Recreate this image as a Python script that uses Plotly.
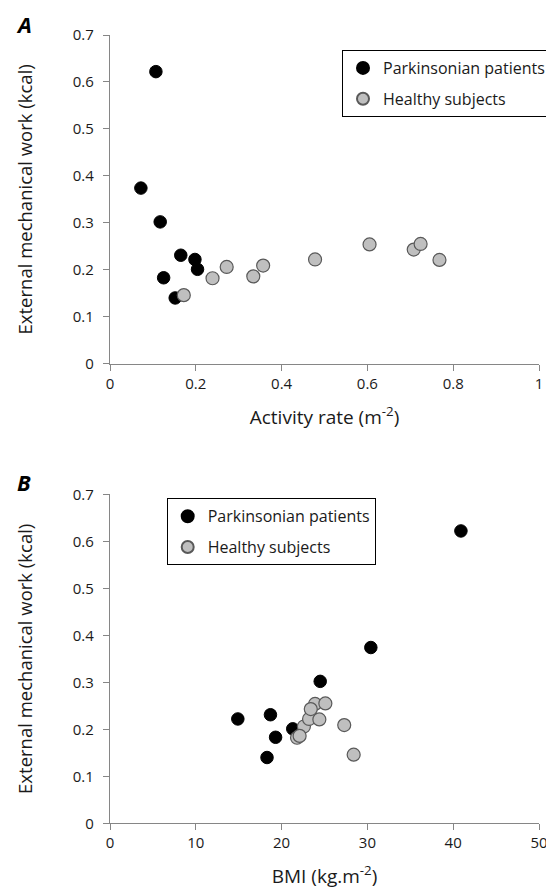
import plotly.graph_objects as go

# Parkinsonian patients
pd_activity = [0.107, 0.072, 0.117, 0.165, 0.198, 0.204, 0.125, 0.152]
pd_work = [0.622, 0.374, 0.302, 0.231, 0.222, 0.201, 0.183, 0.140]
pd_bmi = [40.9, 30.4, 24.5, 18.7, 14.9, 21.3, 19.3, 18.3]

# Healthy subjects
hs_activity = [0.172, 0.239, 0.272, 0.334, 0.357, 0.478, 0.605, 0.708, 0.724, 0.768]
hs_work = [0.146, 0.182, 0.206, 0.186, 0.209, 0.222, 0.254, 0.243, 0.255, 0.221]
hs_bmi = [28.4, 21.8, 22.6, 22.1, 27.3, 23.2, 23.9, 23.4, 25.1, 24.4]

series_names = ["Parkinsonian patients", "Healthy subjects"]
y_ticks = [0, 0.1, 0.2, 0.3, 0.4, 0.5, 0.6, 0.7]
x_ticks_a = [0, 0.2, 0.4, 0.6, 0.8, 1]
x_ticks_b = [0, 10, 20, 30, 40, 50]

FONT = "'Open Sans', Lato, sans-serif"
PAGE_W, PAGE_H = 554, 892
OFF = 8  # default body margin of the page
W, H = PAGE_W - OFF, PAGE_H - OFF
AX = "#868686"
TXT = "#1a1a1a"


def px(x):
    return (x - OFF) / W


def py(y):
    return 1 - (y - OFF) / H


pd_marker = dict(color="black", size=12.5, line=dict(color="black", width=1))
hs_marker = dict(color="#BFBFBF", size=13, line=dict(color="#595959", width=1.2))

fig = go.Figure()
fig.add_trace(go.Scatter(x=pd_activity, y=pd_work, mode="markers", name=series_names[0],
                         marker=pd_marker, xaxis="x", yaxis="y", legend="legend",
                         legendgroup="a1"))
fig.add_trace(go.Scatter(x=hs_activity, y=hs_work, mode="markers", name=series_names[1],
                         marker=hs_marker, xaxis="x", yaxis="y", legend="legend",
                         legendgroup="a2"))
fig.add_trace(go.Scatter(x=pd_bmi, y=pd_work, mode="markers", name=series_names[0],
                         marker=pd_marker, xaxis="x2", yaxis="y2", legend="legend2",
                         legendgroup="b1"))
fig.add_trace(go.Scatter(x=hs_bmi, y=hs_work, mode="markers", name=series_names[1],
                         marker=hs_marker, xaxis="x2", yaxis="y2", legend="legend2",
                         legendgroup="b2"))

xdom = [px(110), px(539)]
ya_dom = [py(363.7), py(35)]
yb_dom = [py(823.3), py(494.3)]

axis_common = dict(showline=True, linecolor=AX, linewidth=1.3, ticks="outside",
                   tickcolor=AX, ticklen=6, tickwidth=1.3, showgrid=False, zeroline=False,
                   automargin=False,
                   tickfont=dict(family=FONT, size=15, color=TXT))

xtitle_font = dict(family=FONT, size=19, color=TXT)
ytitle_font = dict(family=FONT, size=18.5, color=TXT)

legend_common = dict(xanchor="left", yanchor="top",
                     bordercolor="black", borderwidth=1, bgcolor="white",
                     font=dict(family=FONT, size=16, color=TXT),
                     tracegroupgap=7, itemsizing="constant")

fig.update_layout(
    width=W, height=H,
    margin=dict(l=0, r=0, t=0, b=0, autoexpand=False),
    paper_bgcolor="white", plot_bgcolor="white",
    font=dict(family=FONT, color=TXT),
    xaxis=dict(domain=xdom, range=[0, 1], tickvals=x_ticks_a, anchor="y",
               title=dict(text="Activity rate (m<sup>-2</sup>)", standoff=18, font=xtitle_font),
               **axis_common),
    yaxis=dict(domain=ya_dom, range=[0, 0.7], tickvals=y_ticks, anchor="x",
               ticklabelstandoff=6,
               title=dict(text="External mechanical work (kcal)", standoff=35, font=ytitle_font),
               **axis_common),
    xaxis2=dict(domain=xdom, range=[0, 50], tickvals=x_ticks_b, anchor="y2",
                title=dict(text="BMI (kg.m<sup>-2</sup>)", standoff=18, font=xtitle_font),
                **axis_common),
    yaxis2=dict(domain=yb_dom, range=[0, 0.7], tickvals=y_ticks, anchor="x2",
                ticklabelstandoff=6,
                title=dict(text="External mechanical work (kcal)", standoff=35, font=ytitle_font),
                **axis_common),
    legend=dict(x=px(342), y=py(50), **legend_common),
    legend2=dict(x=px(166.7), y=py(498.3), **legend_common),
    annotations=[
        dict(text="<b><i>A</i></b>", x=px(24), y=py(23.5), xref="paper", yref="paper",
             showarrow=False, xanchor="center", yanchor="middle",
             font=dict(family=FONT, size=22, color="black")),
        dict(text="<b><i>B</i></b>", x=px(24), y=py(481.5), xref="paper", yref="paper",
             showarrow=False, xanchor="center", yanchor="middle",
             font=dict(family=FONT, size=22, color="black")),
    ],
)

fig.write_html("out.html")
